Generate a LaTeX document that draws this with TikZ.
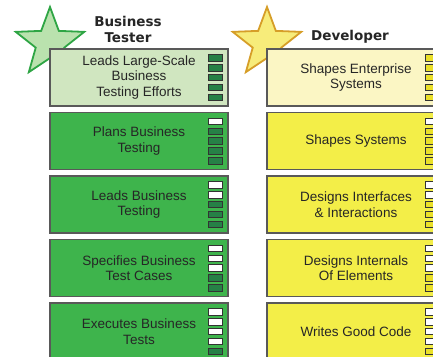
\documentclass[tikz,border=0pt]{standalone}
\usepackage{fontspec}
\setmainfont{Liberation Sans}
\newfontfamily\headfont{DejaVu Sans}
\usetikzlibrary{shapes.geometric}

\definecolor{paleGreen}{RGB}{208,230,192}
\definecolor{testGreen}{RGB}{62,180,76}
\definecolor{barGreen}{RGB}{38,128,70}
\definecolor{starGreen}{RGB}{186,226,174}
\definecolor{edgeGreen}{RGB}{46,165,68}
\definecolor{paleYellow}{RGB}{251,246,196}
\definecolor{devYellow}{RGB}{243,238,72}
\definecolor{barYellow}{RGB}{234,224,40}
\definecolor{starYellow}{RGB}{247,236,122}
\definecolor{edgeGold}{RGB}{214,158,40}

\begin{document}
\begin{tikzpicture}[x=1pt,y=-1pt,every node/.style={outer sep=0pt},
 skill/.style={draw=black!65,line width=1.1pt,minimum width=178pt,
 minimum height=57pt,inner sep=0pt,align=center,text=black!85,
 font=\fontsize{13.5}{15.5}\selectfont},
 level/.style={draw=black!80,line width=0.7pt,minimum width=14pt,
 minimum height=6.5pt,inner sep=0pt},
 badge/.style={star,star points=5,star point ratio=2.4,minimum size=72pt,
 line width=1.8pt,inner sep=0pt},
 heading/.style={font=\headfont\bfseries\fontsize{13.5}{16}\selectfont,
 align=center,text=black!85}]

  \useasboundingbox (0,0) rectangle (433,356);
  \clip (0,0) rectangle (433,356);

  % stars behind the first row
  \node[badge,fill=starGreen,draw=edgeGreen] (testerstar) at (50,43) {};
  \node[badge,fill=starYellow,draw=edgeGold] (devstar) at (267,43) {};

  \node[heading] (testerhead) at (128,29) {Business\\Tester};
  \node[heading] (devhead) at (350,37) {Developer};

  % tester column
  \foreach \k/\fillc/\txt in {1/paleGreen/{Leads Large-Scale\\Business\\Testing Efforts},
   2/testGreen/{Plans Business\\Testing},
   3/testGreen/{Leads Business\\Testing},
   4/testGreen/{Specifies Business\\Test Cases},
   5/testGreen/{Executes Business\\Tests}}
  {\node[skill,fill=\fillc] (t\k) at (139,{77.5+63.5*(\k-1)}) {\txt};
   \foreach \b in {1,...,5}
   {\ifnum\b<\k \def\barc{white}\else\def\barc{barGreen}\fi
    \node[level,fill=\barc] (t\k b\b)
     at ([xshift=-12.5pt,yshift={(3-\b)*9.8pt}]t\k.east) {};
   }
  }

  % developer column
  \foreach \k/\fillc/\txt in {1/paleYellow/{Shapes Enterprise\\Systems},
   2/devYellow/{Shapes Systems},
   3/devYellow/{Designs Interfaces\\\& Interactions},
   4/devYellow/{Designs Internals\\Of Elements},
   5/devYellow/{Writes Good Code}}
  {\node[skill,fill=\fillc] (d\k) at (356,{77.5+63.5*(\k-1)}) {\txt};
   \foreach \b in {1,...,5}
   {\ifnum\b<\k \def\barc{white}\else\def\barc{barYellow}\fi
    \node[level,fill=\barc] (d\k b\b)
     at ([xshift=-12.5pt,yshift={(3-\b)*9.8pt}]d\k.east) {};
   }
  }

\end{tikzpicture}
\end{document}
